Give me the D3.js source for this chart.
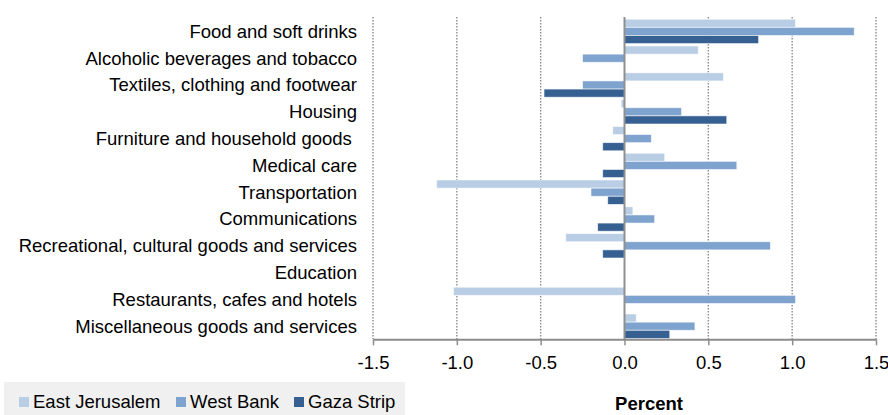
<!DOCTYPE html>
<html>
<head>
<meta charset="utf-8">
<script src="https://cdnjs.cloudflare.com/ajax/libs/d3/7.8.5/d3.min.js"></script>
<style>
  body { margin: 0; background: #fff; }
  svg { display: block; font-family: Arial, "Liberation Sans", sans-serif; }
</style>
</head>
<body>
<svg id="chart"></svg>
<script>
// categories (top to bottom)
var categories = [
  "Food and soft drinks",
  "Alcoholic beverages and tobacco",
  "Textiles, clothing and footwear",
  "Housing",
  "Furniture and household goods ",
  "Medical care",
  "Transportation",
  "Communications",
  "Recreational, cultural goods and services",
  "Education",
  "Restaurants, cafes and hotels",
  "Miscellaneous goods and services"
];
var series = ["East Jerusalem", "West Bank", "Gaza Strip"];
var eastJerusalem = [1.02, 0.44, 0.59, -0.02, -0.07, 0.24, -1.12, 0.05, -0.35, 0, -1.02, 0.07];
var westBank      = [1.37, -0.25, -0.25, 0.34, 0.16, 0.67, -0.20, 0.18, 0.87, 0, 1.02, 0.42];
var gazaStrip     = [0.80, 0, -0.48, 0.61, -0.13, -0.13, -0.10, -0.16, -0.13, 0, 0, 0.27];
var xTicks = [-1.5, -1.0, -0.5, 0, 0.5, 1.0, 1.5];
var colors = ["#b9cde5", "#7ea3cf", "#376092"];

var values = [eastJerusalem, westBank, gazaStrip];

var svg = d3.select("#chart").attr("width", 888).attr("height", 415);

var x = d3.scaleLinear().domain([-1.5, 1.5]).range([373, 876]);
var y = d3.scaleBand().domain(categories).range([18, 339.6])
    .paddingInner(0.09).paddingOuter(0.045);
var ySub = d3.scaleBand().domain(series).range([0, y.bandwidth()]);

// grille verticale pointillée
svg.append("g").selectAll("line")
  .data(xTicks.filter(function(d) { return d !== 0; }))
  .enter().append("line")
  .attr("x1", function(d) { return x(d); })
  .attr("x2", function(d) { return x(d); })
  .attr("y1", 17).attr("y2", 339)
  .attr("stroke", "#8c8c8c")
  .attr("stroke-width", 1.4)
  .attr("stroke-dasharray", "1.5,1.5");

// barres
var rows = [];
categories.forEach(function(c, i) {
  series.forEach(function(s, j) {
    rows.push({cat: c, ser: s, v: values[j][i], k: j});
  });
});

svg.append("g").selectAll("rect")
  .data(rows.filter(function(d) { return d.v !== 0; }))
  .enter().append("rect")
  .attr("x", function(d) { return x(Math.min(0, d.v)); })
  .attr("y", function(d) { return y(d.cat) + ySub(d.ser); })
  .attr("width", function(d) { return Math.abs(x(d.v) - x(0)); })
  .attr("height", ySub.bandwidth())
  .attr("fill", function(d) { return colors[d.k]; })
  .attr("stroke", "#fff")
  .attr("stroke-opacity", 0.7)
  .attr("stroke-width", 0.8);

// ligne zéro
svg.append("line")
  .attr("x1", x(0)).attr("x2", x(0))
  .attr("y1", 17).attr("y2", 339.6)
  .attr("stroke", "#909090")
  .attr("stroke-width", 2);

// axe x
var xAxis = svg.append("g")
  .attr("transform", "translate(0,339.3)")
  .call(d3.axisBottom(x).tickValues(xTicks).tickSize(6).tickSizeOuter(0)
    .tickFormat(d3.format(".1f")));
xAxis.select(".domain").attr("stroke", "#8c8c8c").attr("stroke-width", 2);
xAxis.selectAll(".tick line").attr("stroke", "#8c8c8c").attr("stroke-width", 1.5);
xAxis.selectAll(".tick text")
  .attr("y", 23)
  .attr("dy", "0.35em")
  .attr("fill", "#000")
  .style("font-size", "18.5px")
  .style("font-family", "Arial, 'Liberation Sans', sans-serif")
  .text(function(d) { return d3.format(".1f")(d).replace("−", "-"); });

// libellés des catégories
svg.append("g").selectAll("text")
  .data(categories)
  .enter().append("text")
  .attr("x", 357)
  .attr("y", function(d) { return y(d) + y.bandwidth() / 2; })
  .attr("dy", "0.35em")
  .attr("text-anchor", "end")
  .attr("xml:space", "preserve")
  .style("white-space", "pre")
  .style("font-size", "18.5px")
  .text(function(d) { return d; });

// titre de l'axe
svg.append("text")
  .attr("x", 649).attr("y", 404)
  .attr("dy", "0.35em")
  .attr("text-anchor", "middle")
  .style("font-size", "18.5px")
  .style("font-weight", "bold")
  .text("Percent");

// légende
var legend = svg.append("g");
legend.append("rect")
  .attr("x", 4).attr("y", 382).attr("width", 401).attr("height", 33)
  .attr("fill", "#f0f0f0");
var legX = [19, 176, 294];
var item = legend.selectAll(".item")
  .data(series)
  .enter().append("g")
  .attr("class", "item")
  .attr("transform", function(d, i) { return "translate(" + legX[i] + ",402)"; });
item.append("rect")
  .attr("x", 0).attr("y", -5).attr("width", 10).attr("height", 10)
  .attr("fill", function(d, i) { return colors[i]; });
item.append("text")
  .attr("x", 14).attr("dy", "0.35em")
  .style("font-size", "18.5px")
  .text(function(d) { return d; });
</script>
</body>
</html>
